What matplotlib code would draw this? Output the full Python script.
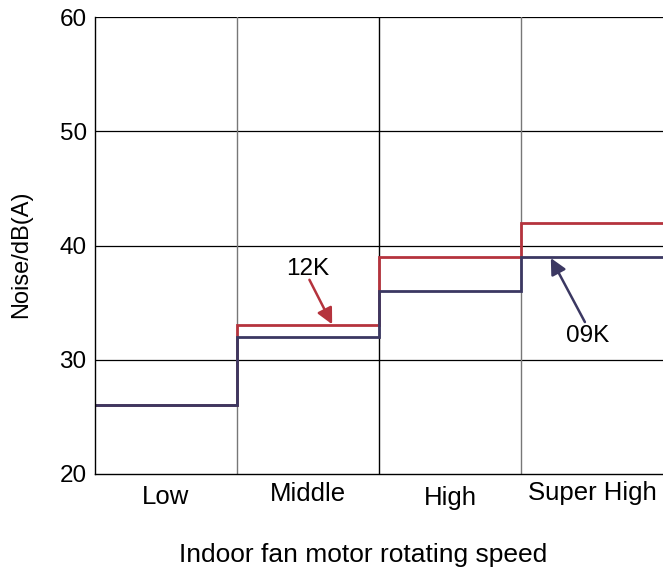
import numpy as np
import matplotlib.pyplot as plt

plt.rcParams['font.family'] = ['Liberation Sans', 'DejaVu Sans']

speeds = ['Low', 'Middle', 'High', 'Super High']
noise_12k = [26, 33, 39, 42]
noise_09k = [26, 32, 36, 39]
y_ticks = [20, 30, 40, 50, 60]

red = '#b5333d'
navy = '#3b3862'

fig = plt.figure(figsize=(6.63, 5.7), dpi=100)
ax = fig.add_axes([95/663, 1-474/570, 1-95/663, (474-17)/570])

edges = np.arange(len(speeds) + 1)
ax.stairs(noise_12k, edges, color=red, lw=2.0, baseline=None)
ax.stairs(noise_09k, edges, color=navy, lw=2.0, baseline=None)

ax.set_xlim(0, 4)
ax.set_ylim(20, 60)
ax.set_yticks(y_ticks)
ax.set_xticks([])
ax.tick_params(axis='y', length=0, labelsize=17.5, pad=6)

for y in y_ticks[1:]:
    ax.axhline(y, color='black', lw=0.9, zorder=0)
for x, c in zip([1, 2, 3], ['#777777', 'black', '#777777']):
    ax.axvline(x, color=c, lw=1.0, zorder=0)

for s in ['top', 'right']:
    ax.spines[s].set_visible(False)
ax.spines['left'].set_linewidth(1.0)
ax.spines['bottom'].set_linewidth(1.0)

# category labels under each section
label_off = [-2.0, -1.75, -2.1, -1.65]
for i, (name, off) in enumerate(zip(speeds, label_off)):
    ax.text(i + 0.5, 20 + off, name, ha='center', va='center', fontsize=18.5)

fig.text(21/663, 1-254/570, 'Noise/dB(A)', rotation=90, ha='center', va='center', fontsize=17)
fig.text(363/663, 1-555/570, 'Indoor fan motor rotating speed', ha='center', va='center', fontsize=19)

# series labels with arrows
ax.text(1.495, 37.95, '12K', ha='center', va='center', fontsize=17.5)
ax.annotate('', xy=(1.67, 33.1), xytext=(1.51, 37.0),
            arrowprops=dict(arrowstyle='-|>', color=red, lw=1.8, mutation_scale=24,
                            shrinkA=0, shrinkB=0))
ax.text(3.47, 32.1, '09K', ha='center', va='center', fontsize=17.5)
ax.annotate('', xy=(3.21, 38.9), xytext=(3.45, 33.3),
            arrowprops=dict(arrowstyle='-|>', color=navy, lw=1.8, mutation_scale=24,
                            shrinkA=0, shrinkB=0))

fig.savefig('out.png', dpi=100)
